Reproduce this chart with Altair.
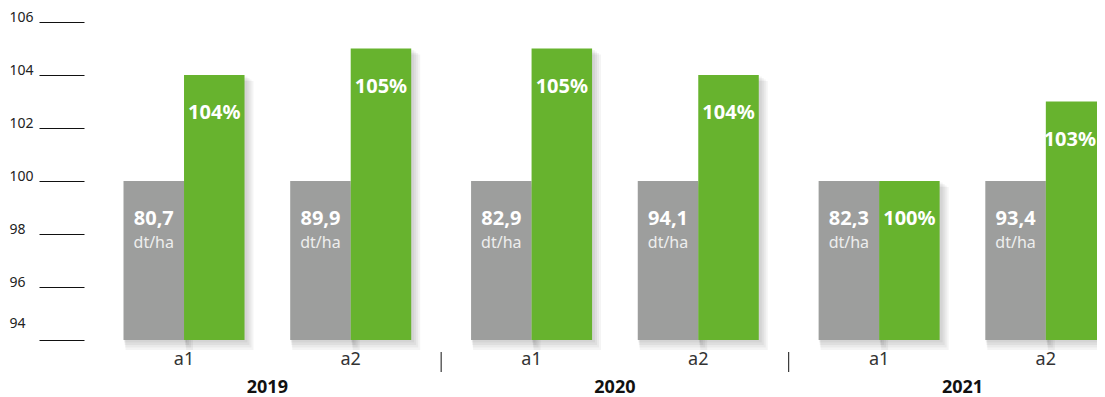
import altair as alt
import pandas as pd

# ---- data ----
years = ["2019", "2020", "2021"]
varieties = ["a1", "a2"]
yield_labels = ["80,7", "89,9", "82,9", "94,1", "82,3", "93,4"]
pct_values = [104, 105, 105, 104, 100, 103]
base_index = 100
y_floor = 94
y_ticks = [94, 96, 98, 100, 102, 104, 106]
unit_label = "dt/ha"

# ---- layout constants ----
YEAR_GAP = 0.085   # extra space between year groups (in slot units)
HALF = 0.363       # width of one bar (in slot units)
X_MIN, X_MAX = -0.6, 5.477
LABEL_HALF = 0.163  # half width of a % label (slot units), keeps it inside the plot
GRAY = "#9d9e9d"
GREEN = "#67b32e"
FONT = "Noto Sans"

rows = []
i = 0
for yi, yr in enumerate(years):
    for v in varieties:
        rows.append(dict(year=yr, variety=v, slot=i + yi * YEAR_GAP,
                         yield_label=yield_labels[i], pct=pct_values[i],
                         pct_label=f"{pct_values[i]}%", base=base_index,
                         floor=y_floor, unit=unit_label))
        i += 1
df = pd.DataFrame(rows)
df["gray_x"] = df["slot"] - HALF
df["gray_c"] = df["slot"] - HALF / 2
df["green_x2"] = df["slot"] + HALF
df["green_c"] = (df["slot"] + HALF / 2).clip(upper=X_MAX - LABEL_HALF)

bars = pd.concat([
    pd.DataFrame(dict(series="gray", x=df["gray_x"], x2=df["slot"], top=df["base"], floor=df["floor"])),
    pd.DataFrame(dict(series="green", x=df["slot"], x2=df["green_x2"], top=df["pct"], floor=df["floor"])),
], ignore_index=True)

year_df = df.groupby("year", as_index=False)["slot"].mean()
seps = []
for a, b in zip(years[:-1], years[1:]):
    seps.append(dict(sep=(df[df.year == a]["slot"].max() + df[df.year == b]["slot"].min()) / 2))
sep_df = pd.DataFrame(seps)

xscale = alt.Scale(domain=[X_MIN, X_MAX], nice=False, zero=False)
yscale = alt.Scale(domain=[94, 106], nice=False, zero=False)

yaxis = alt.Axis(values=y_ticks, tickSize=45, tickColor="#111", tickWidth=1,
                 domain=False, grid=False, labelAlign="left", labelPadding=30,
                 labelBaseline="middle",
                 labelOffset={"condition": {"test": "datum.value == 94", "value": -17}, "value": -5},
                 labelFontSize=14, labelColor="#222", labelFont=FONT, title=None)


def Y(field):
    return alt.Y(field, scale=yscale, axis=yaxis)


def X(field):
    return alt.X(field, scale=xscale, axis=None)


shadow_layers = []
for k in range(1, 5):
    shadow_layers.append(
        alt.Chart(bars).mark_rect(color="#000", opacity=0.045, xOffset=k * 0.5,
                                  x2Offset=2 * k + 1, yOffset=k * 1.5, y2Offset=2.5 * k)
        .encode(x=X("x:Q"), x2="x2:Q", y=Y("top:Q"), y2="floor:Q")
    )

rects = alt.Chart(bars).mark_rect(clip=True).encode(
    x=X("x:Q"), x2="x2:Q", y=Y("top:Q"), y2="floor:Q",
    color=alt.Color("series:N", scale=alt.Scale(domain=["gray", "green"], range=[GRAY, GREEN]), legend=None),
)

gray_val = alt.Chart(df).mark_text(dy=38, font=FONT, fontSize=20, fontWeight="bold", color="white").encode(
    x=X("gray_c:Q"), y=Y("base:Q"), text="yield_label:N")
gray_unit = alt.Chart(df).mark_text(dy=62, font=FONT, fontSize=16, color="#eeeeee").encode(
    x=X("gray_c:Q"), y=Y("base:Q"), text="unit:N")
green_val = alt.Chart(df).mark_text(dy=38, font=FONT, fontSize=20, fontWeight="bold", color="white").encode(
    x=X("green_c:Q"), y=Y("pct:Q"), text="pct_label:N")

var_lbl = alt.Chart(df).mark_text(font=FONT, fontSize=18, color="#333", baseline="middle").encode(
    x=X("slot:Q"), y=alt.value(338), text="variety:N")
year_lbl = alt.Chart(year_df).mark_text(font=FONT, fontSize=18, fontWeight="bold", color="#111", baseline="middle").encode(
    x=X("slot:Q"), y=alt.value(366), text="year:N")
sep_rule = alt.Chart(sep_df).mark_rule(color="#111", strokeWidth=1).encode(
    x=X("sep:Q"), y=alt.value(330), y2=alt.value(350))

chart = alt.layer(*shadow_layers, rects, gray_val, gray_unit, green_val, var_lbl, year_lbl, sep_rule).properties(
    width=1013, height=318,
    padding={"left": 76, "top": 14, "right": 0, "bottom": 57},
    autosize=alt.AutoSizeParams(type="none"),
).configure_view(strokeWidth=0)

chart.save("out.html", embed_options={"renderer": "svg", "actions": False})
